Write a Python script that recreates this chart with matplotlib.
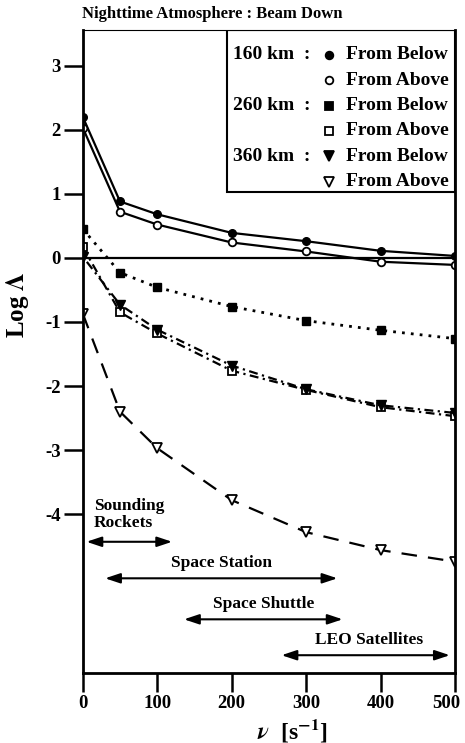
import matplotlib
matplotlib.use("Agg")
import matplotlib.pyplot as plt
import matplotlib.transforms as mtransforms
from matplotlib.patches import Rectangle

plt.rcParams['font.family'] = ['Liberation Serif', 'DejaVu Serif']
plt.rcParams['font.weight'] = 'bold'
plt.rcParams['mathtext.fontset'] = 'stix'
plt.rcParams['axes.unicode_minus'] = False

# collision frequency nu [1/s] and log Lambda for each altitude / beam direction
nu = [0, 50, 100, 200, 300, 400, 500]
a160_below = [2.20, 0.88, 0.68, 0.39, 0.26, 0.11, 0.03]
a160_above = [2.03, 0.72, 0.52, 0.24, 0.10, -0.06, -0.11]
a260_below = [0.45, -0.23, -0.46, -0.76, -0.98, -1.13, -1.26]
a260_above = [0.17, -0.85, -1.18, -1.76, -2.06, -2.33, -2.47]
a360_below = [0.02, -0.73, -1.12, -1.68, -2.05, -2.30, -2.42]
a360_above = [-0.87, -2.40, -2.97, -3.78, -4.28, -4.56, -4.74]

# frequency ranges of the different platforms
platforms = ['Space Station', 'Space Shuttle', 'LEO Satellites']
plat_from = [30, 136, 267]
plat_to = [342, 349, 493]
rockets_range = (5, 120)

fig = plt.figure(figsize=(4.65, 7.43), dpi=100)
ax = fig.add_axes([0.178, 0.094, 0.8005, 0.866])

lw = 1.6
ax.plot(nu, a160_below, '-', color='k', lw=lw, marker='o', ms=5.5, mfc='k', mec='k')
ax.plot(nu, a160_above, '-', color='k', lw=lw, marker='o', ms=5.5, mfc='white', mec='k', mew=1.3)
ax.plot(nu, a260_below, color='k', lw=2, ls=(0, (1, 2.2)), marker='s', ms=5.5, mfc='k', mec='k')
ax.plot(nu, a260_above, color='k', lw=1.6, ls=(0, (4, 2, 1, 2)), marker='s', ms=5.5, mfc='white', mec='k', mew=1.3)
ax.plot(nu, a360_below, color='k', lw=1.6, ls=(0, (1, 2, 4, 2)), marker='v', ms=6.5, mfc='k', mec='k')
ax.plot(nu, a360_above, color='k', lw=1.6, ls=(0, (7, 5)), marker='v', ms=6.5, mfc='white', mec='k', mew=1.3)

ax.axhline(0, color='k', lw=1.6, zorder=1)

ax.set_xlim(0, 500)
ax.set_ylim(-6.48, 3.56)
ax.set_xticks(range(0, 501, 100))
ax.set_yticks(range(-4, 4))
ax.tick_params(direction='out', length=14, width=1.8, labelsize=13.5, pad=2)
for side in ['left', 'right', 'bottom']:
    ax.spines[side].set_linewidth(2)
ax.spines['top'].set_linewidth(0.8)

# keep the last x tick label inside the figure
last = ax.get_xticklabels()[-1]
last.set_transform(last.get_transform() +
                   mtransforms.ScaledTranslation(-6 / 72, 0, fig.dpi_scale_trans))

ax.set_ylabel(r'Log $\Lambda$', fontsize=18, fontweight='bold')
ax.yaxis.set_label_coords(-0.14, 0.572)
ax.set_xlabel(r'$\nu$  [s$^{-1}$]', fontsize=17, fontweight='bold')
ax.xaxis.set_label_coords(0.562, -0.068)

fig.text(0.177, 0.981, 'Nighttime Atmosphere : Beam Down', fontsize=12,
         fontweight='bold', ha='left', va='center')

# platform arrows
arrow_kw = dict(arrowstyle='<|-|>,head_length=0.9,head_width=0.3', color='k', lw=1.5,
                shrinkA=0, shrinkB=0)
ax.annotate('', xy=(rockets_range[1], -4.43), xytext=(rockets_range[0], -4.43),
            arrowprops=arrow_kw)
ax.text(15, -4.0, 'Sounding\nRockets', fontsize=12.5, fontweight='bold',
        ha='left', va='center', linespacing=1.05)
arrow_y = [-5.0, -5.64, -6.2]
for name, x0, x1, y in zip(platforms, plat_from, plat_to, arrow_y):
    ax.annotate('', xy=(x1, y), xytext=(x0, y), arrowprops=arrow_kw)
    ax.text((x0 + x1) / 2 + (5 if name == 'LEO Satellites' else 0), y + 0.24, name,
            fontsize=12.5, fontweight='bold', ha='center', va='center')

# legend box drawn by hand
ax.add_patch(Rectangle((0.387, 0.748), 0.613, 0.252, transform=ax.transAxes,
                       fill=False, lw=1.5, zorder=5))
rows = [('160 km  :', 'o', 'k', 'From Below'),
        ('', 'o', 'white', 'From Above'),
        ('260 km  :', 's', 'k', 'From Below'),
        ('', 's', 'white', 'From Above'),
        ('360 km  :', 'v', 'k', 'From Below'),
        ('', 'v', 'white', 'From Above')]
for i, (alt, mk, fc, lab) in enumerate(rows):
    y = 0.961 - i * 0.0394
    if alt:
        ax.text(0.403, y, alt, transform=ax.transAxes, fontsize=14,
                fontweight='bold', ha='left', va='center')
    ax.plot([0.661], [y], transform=ax.transAxes, marker=mk, ms=6.5 if mk == 'v' else 5.5,
            mfc=fc, mec='k', mew=1.3, color='k', ls='none')
    ax.text(0.707, y, lab, transform=ax.transAxes, fontsize=14,
            fontweight='bold', ha='left', va='center')

fig.savefig('out.png', dpi=100)
